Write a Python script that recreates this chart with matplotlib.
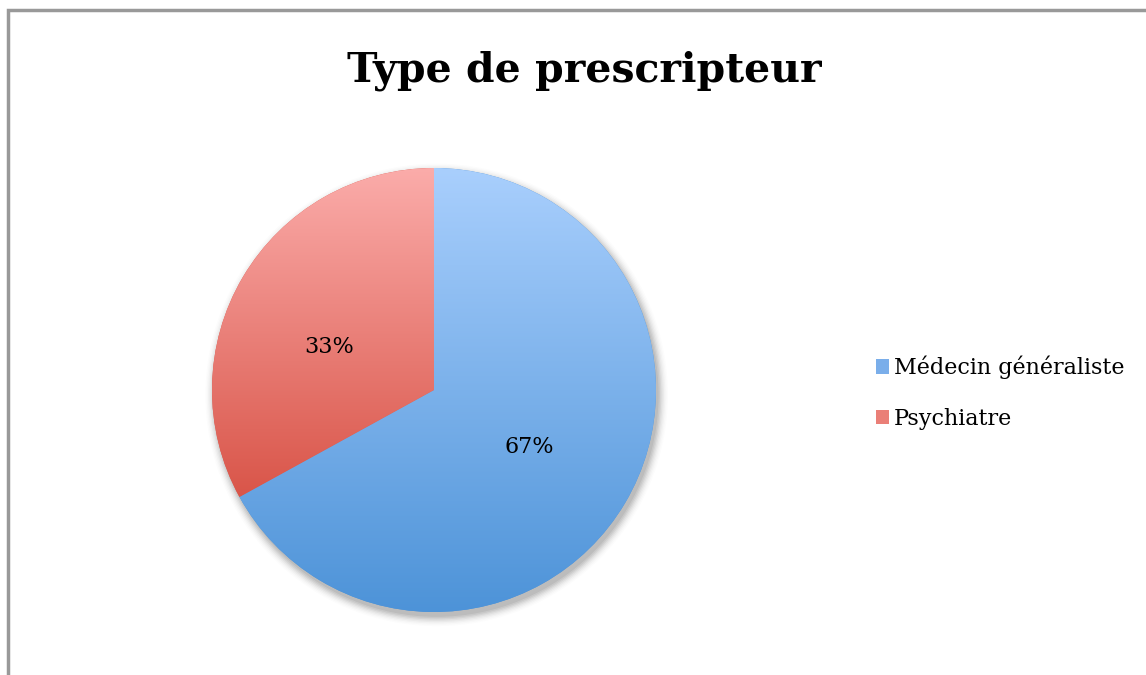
import numpy as np
import matplotlib
matplotlib.use("Agg")
import matplotlib.pyplot as plt
from matplotlib.patches import Rectangle, Circle
from matplotlib.colors import LinearSegmentedColormap

# data
labels = ["Médecin généraliste", "Psychiatre"]
values = [67, 33]
top_colors = ["#a9cffd", "#fbacaa"]
bottom_colors = ["#4d93d8", "#d95549"]
legend_colors = ["#7aaeea", "#ea7f77"]
title = "Type de prescripteur"

plt.rcParams['font.family'] = ['DejaVu Serif']

fig = plt.figure(figsize=(11.46, 6.75), dpi=100)

# border of chart area
fig.add_artist(Rectangle((7.5 / 1146, -0.02), 1.2, 1.02 - 9.5 / 675,
                         transform=fig.transFigure, fill=False,
                         edgecolor="#999999", linewidth=2.5))

fig.text(584 / 1146, 1 - 71 / 675, title, ha="center", va="center",
         fontsize=29.5, fontweight="bold")

ax = fig.add_axes([212 / 1146, 63 / 675, 444 / 1146, 444 / 675])
ax.axis("off")

# soft shadow
for i, a in enumerate(np.linspace(0.06, 0.01, 8)):
    ax.add_patch(Circle((0.012, -0.022), 1.0 + i * 0.006, color="black",
                        alpha=a, zorder=0, linewidth=0, clip_on=False))

wedges, texts, autotexts = ax.pie(values, startangle=90, counterclock=False,
                                  radius=1, autopct="%1.0f%%", pctdistance=0.5,
                                  textprops=dict(fontsize=16, color="black"),
                                  wedgeprops=dict(linewidth=0))

# gradient fills clipped to wedges
for w, c0, c1 in zip(wedges, top_colors, bottom_colors):
    w.set_facecolor(c1)
    w.set_zorder(1)
    ys = w.get_path().vertices[:, 1]
    cmap = LinearSegmentedColormap.from_list("g", [c1, c0])
    grad = np.linspace(0, 1, 256).reshape(-1, 1)
    im = ax.imshow(grad, cmap=cmap, origin="lower", aspect="auto",
                   extent=(-1, 1, ys.min(), ys.max()), zorder=2,
                   interpolation="bilinear")
    im.set_clip_path(w)
for t in autotexts:
    t.set_zorder(5)
# nudge the smaller label like the original layout
x, y = autotexts[1].get_position()
autotexts[1].set_position((x - 0.04, y - 0.06))

ax.set_xlim(-1, 1)
ax.set_ylim(-1, 1)
ax.set_aspect("equal")

# legend
handles = [Rectangle((0, 0), 1, 1, facecolor=c, edgecolor="none") for c in legend_colors]
fig.legend(handles, labels, loc="center left", bbox_to_anchor=(856 / 1146, 1 - 393 / 675),
           frameon=False, fontsize=16, handlelength=0.6, handleheight=0.6,
           handletextpad=0.2, labelspacing=1.3)

fig.savefig("out.png", dpi=100)
